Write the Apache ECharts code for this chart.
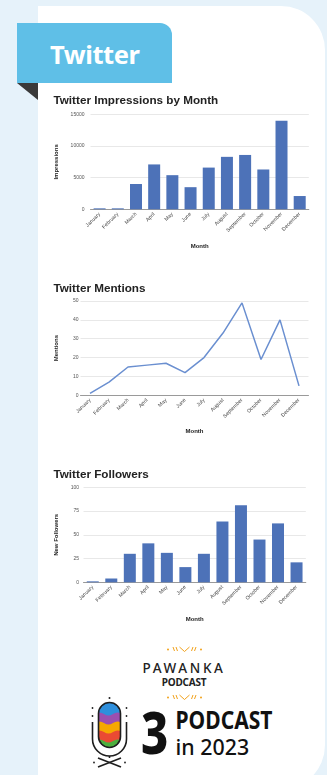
<!DOCTYPE html>
<html><head><meta charset="utf-8">
<script src="https://cdn.jsdelivr.net/npm/echarts@6/dist/echarts.min.js"></script>
<style>
html,body{margin:0;padding:0;width:327px;height:775px;overflow:hidden;background:#e6f2fa;}
#deco{position:absolute;left:0;top:0;}
#chart{position:absolute;left:0;top:0;width:327px;height:775px;}
</style></head>
<body>
<svg id="deco" width="327" height="775" viewBox="0 0 327 775" xmlns="http://www.w3.org/2000/svg">
  <rect x="0" y="0" width="327" height="775" fill="#e6f2fa"/>
  <path d="M38,6 H281 A44,44 0 0 1 325,50 V745 A45,45 0 0 1 280,790 H38 Z" fill="#ffffff"/>
  <path d="M17,23 H160 A12,12 0 0 1 172,35 V83 H17 Z" fill="#5fbfe7"/>
  <path d="M17,83 L38,83 L38,100 Z" fill="#3a3a3a"/>
  <text x="50" y="63.5" font-family="Noto Sans" font-weight="700" font-size="25.5" letter-spacing="-0.4" fill="#ffffff">Twitter</text>

  <!-- Pawanka logo -->
  <g stroke="#f2a21b" stroke-width="1" fill="#f2a21b">
    <circle cx="168" cy="649.5" r="1" stroke="none"/>
    <circle cx="201" cy="649.5" r="1" stroke="none"/>
    <line x1="173" y1="647" x2="174.5" y2="651"/>
    <line x1="176" y1="647" x2="177.5" y2="651"/>
    <line x1="179.5" y1="647" x2="184.5" y2="651.5"/>
    <line x1="189.5" y1="647" x2="184.5" y2="651.5"/>
    <line x1="193" y1="647" x2="191.5" y2="651"/>
    <line x1="196" y1="647" x2="194.5" y2="651"/>
  </g>
  <text x="184" y="673" text-anchor="middle" font-family="Noto Sans" font-weight="500" font-size="13.5" letter-spacing="2.6" fill="#222">PAWANKA</text>
  <text x="184" y="686" text-anchor="middle" font-family="Noto Sans" font-weight="700" font-size="10" letter-spacing="-0.2" fill="#222">PODCAST</text>
  <g stroke="#f2a21b" stroke-width="1" fill="#f2a21b" transform="translate(0,48)">
    <circle cx="168" cy="649.5" r="1" stroke="none"/>
    <circle cx="201" cy="649.5" r="1" stroke="none"/>
    <line x1="173" y1="647" x2="174.5" y2="651"/>
    <line x1="176" y1="647" x2="177.5" y2="651"/>
    <line x1="179.5" y1="647" x2="184.5" y2="651.5"/>
    <line x1="189.5" y1="647" x2="184.5" y2="651.5"/>
    <line x1="193" y1="647" x2="191.5" y2="651"/>
    <line x1="196" y1="647" x2="194.5" y2="651"/>
  </g>

  <!-- microphone -->
  <defs>
    <clipPath id="cap"><rect x="98.5" y="702.5" width="22" height="45" rx="11"/></clipPath>
  </defs>
  <g clip-path="url(#cap)">
    <rect x="95" y="700" width="30" height="50" fill="#2e8fdc"/>
    <path d="M95,714 q4.5,-3 9,0 t9,0 t9,0 t9,0 V752 H95 Z" fill="#9b4fb0"/>
    <path d="M95,723 q4.5,-3 9,0 t9,0 t9,0 t9,0 V752 H95 Z" fill="#f6a800"/>
    <path d="M95,732 q4.5,-3 9,0 t9,0 t9,0 t9,0 V752 H95 Z" fill="#ea4a33"/>
    <path d="M95,741 q4.5,-3 9,0 t9,0 t9,0 t9,0 V752 H95 Z" fill="#4caf3d"/>
  </g>
  <g fill="none" stroke="#1e1e1e" stroke-width="1.6">
    <rect x="98.5" y="702.5" width="22" height="45" rx="11"/>
    <path d="M92.5,722 V739 A17,17 0 0 0 126.5,739 V722"/>
    <line x1="109.5" y1="756" x2="109.5" y2="758"/>
    <line x1="98" y1="758" x2="121" y2="767"/>
    <line x1="121" y1="758" x2="98" y2="767"/>
  </g>
  <g fill="#1e1e1e">
    <circle cx="109.5" cy="698" r="1"/>
    <circle cx="92.5" cy="708" r="0.9"/>
    <circle cx="126.5" cy="708" r="0.9"/>
    <circle cx="92.5" cy="716" r="0.9"/>
    <circle cx="126.5" cy="716" r="0.9"/>
    <circle cx="94" cy="762.5" r="0.9"/>
    <circle cx="125" cy="762.5" r="0.9"/>
  </g>
  <text x="141" y="754" font-family="Noto Sans" font-weight="800" font-size="59" fill="#111" transform="translate(141,0) scale(0.8,1) translate(-141,0)">3</text>
  <text x="175.5" y="729.5" font-family="Noto Sans" font-weight="700" font-size="24.5" fill="#111" transform="translate(175.5,0) scale(0.86,1) translate(-175.5,0)">PODCAST</text>
  <text x="175.5" y="755" font-family="Noto Sans" font-weight="500" font-size="22.5" fill="#111" transform="translate(175.5,0) scale(0.95,1) translate(-175.5,0)">in 2023</text>
</svg>
<div id="chart"></div>
<script>
const months = ['January','February','March','April','May','June','July','August','September','October','November','December'];
const impressions = [150, 150, 4000, 7100, 5400, 3500, 6600, 8300, 8600, 6300, 14000, 2100];
const mentions = [1, 7, 15, 16, 17, 12, 20, 33, 49, 19, 40, 5];
const followers = [1, 4, 30, 41, 31, 16, 30, 64, 81, 45, 62, 21];
const impressionsAxis = [0, 15000, 5000];
const mentionsAxis = [0, 50, 10];
const followersAxis = [0, 100, 25];
const titles = ['Twitter Impressions by Month', 'Twitter Mentions', 'Twitter Followers'];
const yNames = ['Impressions', 'Mentions', 'New Followers'];

const FONT = 'Liberation Sans, Arial, sans-serif';
const grids = [
  {left: 90.5, top: 114.5, width: 218.3, height: 94.8},
  {left: 80.5, top: 301, width: 228, height: 94.3},
  {left: 83.5, top: 487.3, width: 222.3, height: 95}
];
const titleTops = [95, 282.5, 469];
const yLabelMargins = [6, 2, 4.5];
const yNameGaps = [30, 21, 24];
const xNameGaps = [34.5, 33.5, 34];
const axes = [impressionsAxis, mentionsAxis, followersAxis];

const chart = echarts.init(document.getElementById('chart'), null, {renderer: 'canvas'});
const option = {
  backgroundColor: 'transparent',
  animation: false,
  title: titles.map((t, i) => ({
    text: t, left: 53.5, top: titleTops[i], padding: 0,
    textStyle: {fontFamily: FONT, fontSize: 11.7, fontWeight: 'bold', color: '#222'}
  })),
  grid: grids.map(g => Object.assign({containLabel: false}, g)),
  xAxis: grids.map((g, i) => ({
    type: 'category', gridIndex: i, data: months,
    boundaryGap: true,
    name: 'Month', nameLocation: 'middle', nameGap: xNameGaps[i],
    nameTextStyle: {fontFamily: FONT, fontSize: 6, fontWeight: 'bold', color: '#222'},
    axisTick: {show: false},
    axisLine: {show: true, lineStyle: {color: '#9a9a9a', width: 1}},
    axisLabel: {interval: 0, rotate: 45, fontSize: 5.2, fontFamily: FONT, color: '#444', margin: 4}
  })),
  yAxis: grids.map((g, i) => ({
    type: 'value', gridIndex: i, min: axes[i][0], max: axes[i][1], interval: axes[i][2],
    name: yNames[i], nameLocation: 'middle', nameRotate: 90, nameGap: yNameGaps[i],
    nameTextStyle: {fontFamily: FONT, fontSize: 6, fontWeight: 'bold', color: '#222'},
    axisLine: {show: false}, axisTick: {show: false},
    splitLine: {lineStyle: {color: '#e8e8e8', width: 1}},
    axisLabel: {fontSize: 5, fontFamily: FONT, color: '#555', margin: yLabelMargins[i],
      formatter: v => String(v)}
  })),
  series: [
    {type: 'bar', xAxisIndex: 0, yAxisIndex: 0, data: impressions, barWidth: 12,
     itemStyle: {color: '#4d72b8'}},
    {type: 'line', xAxisIndex: 1, yAxisIndex: 1, data: mentions, symbol: 'none',
     lineStyle: {color: '#6a8fd0', width: 1.5}},
    {type: 'bar', xAxisIndex: 2, yAxisIndex: 2, data: followers, barWidth: 12,
     itemStyle: {color: '#4d72b8'}}
  ]
};
chart.setOption(option);
</script>
</body></html>
